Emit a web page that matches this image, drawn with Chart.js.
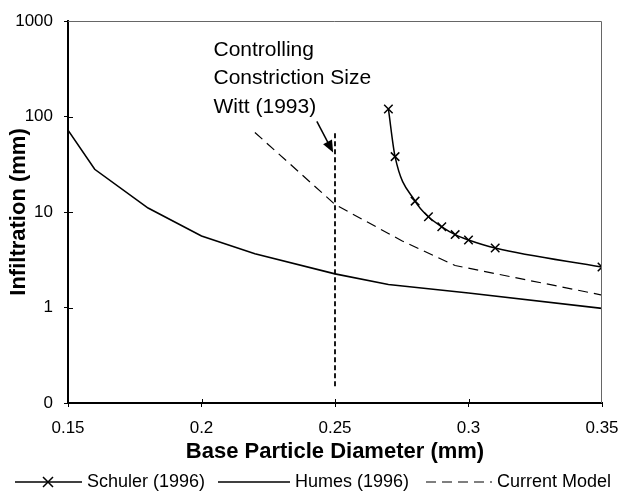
<!DOCTYPE html>
<html>
<head>
<meta charset="utf-8">
<script src="https://cdn.jsdelivr.net/npm/chart.js@4"></script>
<style>
  html, body { margin: 0; padding: 0; background: #fff; }
  canvas { display: block; }
</style>
</head>
<body>
<canvas id="infiltrationChart" width="624" height="493"></canvas>
<script>
// values
const schulerX = [0.27, 0.2725, 0.28, 0.285, 0.29, 0.295, 0.3, 0.31, 0.35];
const schulerY = [120, 38, 13, 8.9, 7.0, 5.8, 5.1, 4.2, 2.65];
const humesX = [0.15, 0.16, 0.18, 0.2, 0.22, 0.25, 0.27, 0.3, 0.35];
const humesY = [72, 28, 11, 5.6, 3.65, 2.25, 1.74, 1.42, 0.98];
const modelX = [0.22, 0.25, 0.275, 0.295, 0.35];
const modelY = [68, 12, 5.0, 2.75, 1.35];
const wittX = [0.25, 0.25];
const wittY = [0.15, 68];

const xTicks = [0.15, 0.2, 0.25, 0.3, 0.35];
const yTicks = [0.1, 1, 10, 100, 1000];
const yTickLabels = ['0', '1', '10', '100', '1000'];
const noteLines = ['Controlling', 'Constriction Size', 'Witt (1993)'];

const FONT = 'Arial, "Liberation Sans", sans-serif';

function pts(xs, ys) {
    return xs.map((v, i) => ({ x: v, y: ys[i] }));
}

const extras = {
    id: 'extras',
    afterDraw(chart) {
        const { ctx, chartArea: a, scales: { x, y } } = chart;
        ctx.save();

        // thin frame on top and right
        ctx.strokeStyle = '#666';
        ctx.lineWidth = 1;
        ctx.beginPath();
        ctx.moveTo(a.left, a.top + 0.5);
        ctx.lineTo(a.right - 0.5, a.top + 0.5);
        ctx.lineTo(a.right - 0.5, a.bottom);
        ctx.stroke();

        // tick marks poke a little into the plot too
        ctx.strokeStyle = '#000';
        ctx.beginPath();
        yTicks.slice(1, -1).forEach(v => {
            const py = Math.round(y.getPixelForValue(v)) + 0.5;
            ctx.moveTo(a.left, py); ctx.lineTo(a.left + 5, py);
        });
        xTicks.slice(1, -1).forEach(v => {
            const px = Math.round(x.getPixelForValue(v)) + 0.5;
            ctx.moveTo(px, a.bottom); ctx.lineTo(px, a.bottom - 4);
        });
        ctx.stroke();

        // note text
        ctx.fillStyle = '#000';
        ctx.font = '21px ' + FONT;
        ctx.textBaseline = 'alphabetic';
        ctx.textAlign = 'left';
        const nx = x.getPixelForValue(0.2045);
        const ny = y.getPixelForValue(431);
        noteLines.forEach((t, i) => ctx.fillText(t, nx, ny + i * 28.5));

        // arrow to the vertical line
        const x0 = x.getPixelForValue(0.2432), y0 = y.getPixelForValue(89);
        const x1 = x.getPixelForValue(0.2493), y1 = y.getPixelForValue(42);
        const ang = Math.atan2(y1 - y0, x1 - x0);
        const c = Math.cos(ang), s = Math.sin(ang);
        ctx.lineWidth = 1.5;
        ctx.beginPath();
        ctx.moveTo(x0, y0);
        ctx.lineTo(x1 - 8 * c, y1 - 8 * s);
        ctx.stroke();
        ctx.beginPath();
        ctx.moveTo(x1, y1);
        ctx.lineTo(x1 - 12 * c + 5 * s, y1 - 12 * s - 5 * c);
        ctx.lineTo(x1 - 12 * c - 5 * s, y1 - 12 * s + 5 * c);
        ctx.closePath();
        ctx.fill();

        // legend along the bottom
        const starts = [15, 218, 426];
        const lens = [67, 72, 66];
        const ly = 482;
        ctx.font = '18px ' + FONT;
        ctx.textBaseline = 'middle';
        chart.data.datasets.filter(d => d.label).forEach((d, i) => {
            const lx = starts[i];
            ctx.strokeStyle = d.borderColor;
            ctx.lineWidth = d.borderWidth;
            ctx.setLineDash(d.borderDash || []);
            ctx.beginPath();
            ctx.moveTo(lx, ly);
            ctx.lineTo(lx + lens[i], ly);
            ctx.stroke();
            ctx.setLineDash([]);
            if (d.pointStyle === 'crossRot') {
                const cx = lx + 33, r = 5;
                ctx.beginPath();
                ctx.moveTo(cx - r, ly - r); ctx.lineTo(cx + r, ly + r);
                ctx.moveTo(cx - r, ly + r); ctx.lineTo(cx + r, ly - r);
                ctx.stroke();
            }
            ctx.fillStyle = '#000';
            ctx.fillText(d.label, lx + lens[i] + 5, ly);
        });

        ctx.restore();
    }
};

new Chart(document.getElementById('infiltrationChart'), {
    type: 'line',
    data: {
        datasets: [
            {
                label: 'Schuler (1996)',
                data: pts(schulerX, schulerY),
                borderColor: '#000',
                borderWidth: 1.5,
                pointStyle: 'crossRot',
                pointRadius: 6,
                pointBorderWidth: 1.5,
                pointBorderColor: '#000',
                cubicInterpolationMode: 'monotone'
            },
            {
                label: 'Humes (1996)',
                data: pts(humesX, humesY),
                borderColor: '#000',
                borderWidth: 1.6,
                pointRadius: 0
            },
            {
                label: 'Current Model',
                data: pts(modelX, modelY),
                borderColor: '#000',
                borderWidth: 1.2,
                borderDash: [10, 6],
                pointRadius: 0
            },
            {
                label: '',
                data: pts(wittX, wittY),
                borderColor: '#000',
                borderWidth: 1.8,
                borderDash: [5, 3],
                pointRadius: 0
            }
        ]
    },
    options: {
        responsive: false,
        animation: false,
        layout: {
            padding: { left: 0, right: 22, top: 21, bottom: 28 }
        },
        plugins: {
            legend: { display: false },
            tooltip: { enabled: false }
        },
        scales: {
            x: {
                type: 'linear',
                min: 0.15,
                max: 0.35,
                afterBuildTicks: s => { s.ticks = xTicks.map(v => ({ value: v })); },
                afterFit: s => { s.height = 62; s.paddingLeft = 0; s.paddingRight = 0; },
                ticks: {
                    color: '#000',
                    font: { family: FONT, size: 17 },
                    padding: 11,
                    maxRotation: 0,
                    callback: v => String(v)
                },
                grid: { display: true, drawOnChartArea: false, tickLength: 4, color: '#000' },
                border: { color: '#000', width: 2 },
                title: {
                    display: true,
                    text: 'Base Particle Diameter (mm)',
                    color: '#000',
                    font: { family: FONT, size: 22, weight: 'bold' },
                    padding: { top: 0, bottom: 0 }
                }
            },
            y: {
                type: 'logarithmic',
                min: 0.1,
                max: 1000,
                afterBuildTicks: s => { s.ticks = yTicks.map(v => ({ value: v })); },
                afterFit: s => { s.width = 68; s.paddingTop = 0; s.paddingBottom = 0; },
                ticks: {
                    color: '#000',
                    font: { family: FONT, size: 17 },
                    padding: 11,
                    callback: v => yTickLabels[yTicks.indexOf(v)]
                },
                grid: { display: true, drawOnChartArea: false, tickLength: 4, color: '#000' },
                border: { color: '#000', width: 2 },
                title: {
                    display: true,
                    text: 'Infiltration (mm)',
                    color: '#000',
                    font: { family: FONT, size: 22, weight: 'bold' },
                    padding: { top: 6, bottom: 0 }
                }
            }
        }
    },
    plugins: [extras]
});
</script>
</body>
</html>
